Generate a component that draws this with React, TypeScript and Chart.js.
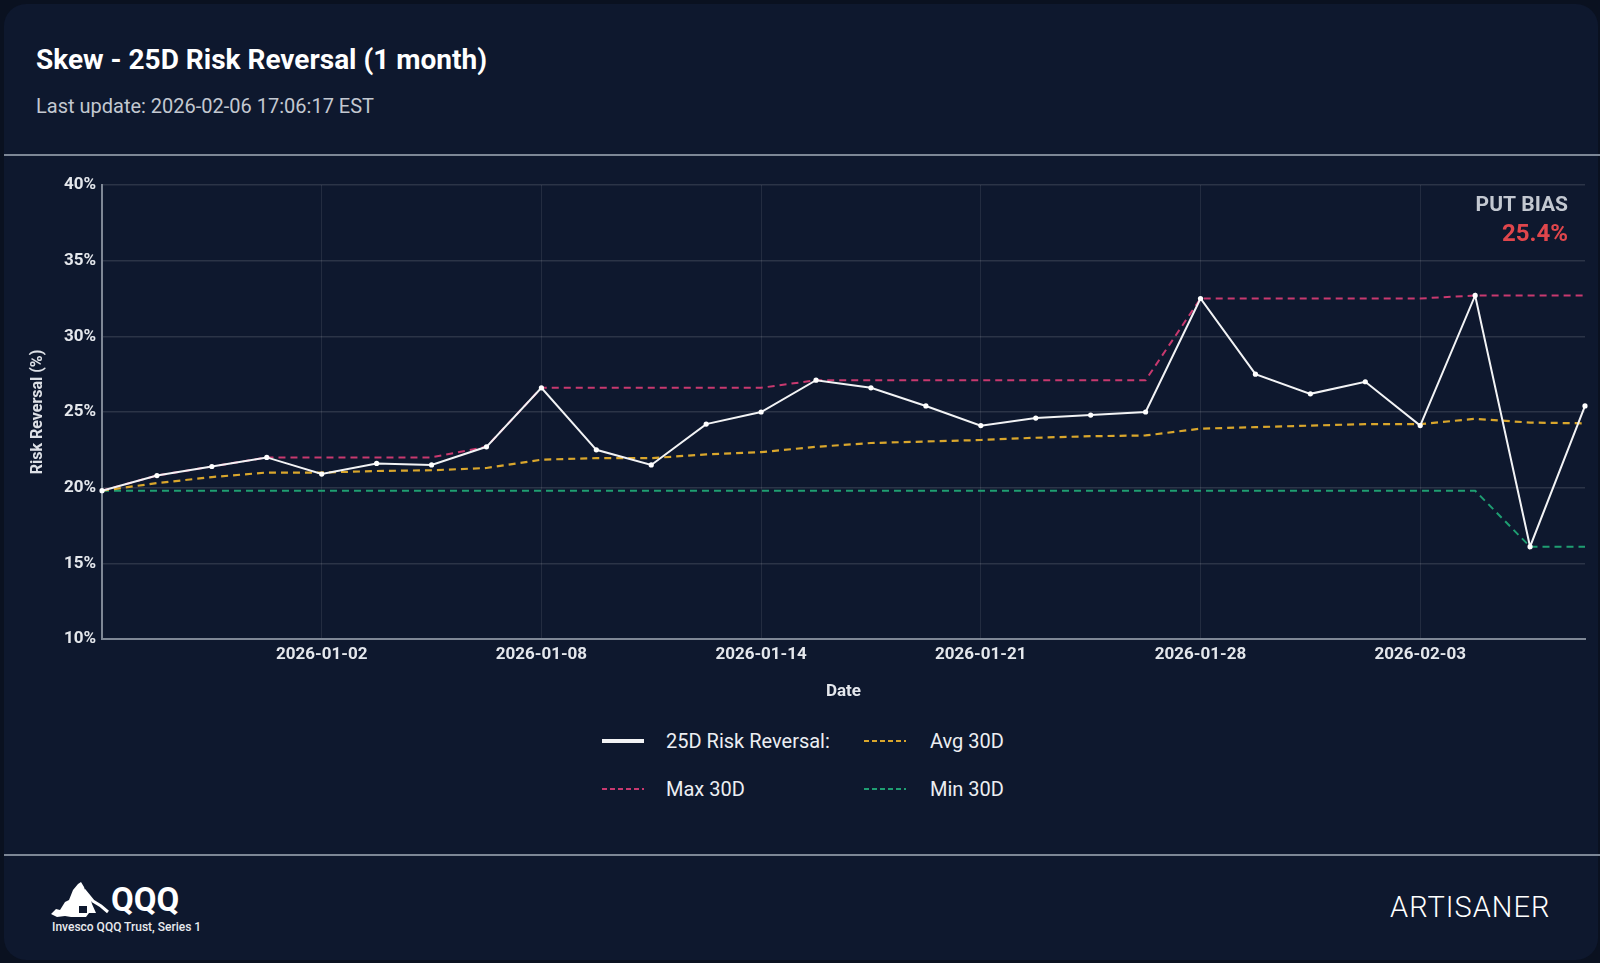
import React, { useEffect, useRef } from "react";
import { Chart, registerables } from "chart.js";

Chart.register(...registerables);

const TITLE = "Skew - 25D Risk Reversal (1 month)";
const SUBTITLE = "Last update: 2026-02-06 17:06:17 EST";
const BIAS_LABEL = "PUT BIAS";
const X_TITLE = "Date";
const Y_TITLE = "Risk Reversal (%)";

const dates = [
  "2025-12-26", "2025-12-29", "2025-12-30", "2025-12-31", "2026-01-02",
  "2026-01-05", "2026-01-06", "2026-01-07", "2026-01-08", "2026-01-09",
  "2026-01-12", "2026-01-13", "2026-01-14", "2026-01-15", "2026-01-16",
  "2026-01-20", "2026-01-21", "2026-01-22", "2026-01-23", "2026-01-27",
  "2026-01-28", "2026-01-29", "2026-01-30", "2026-02-02", "2026-02-03",
  "2026-02-04", "2026-02-05", "2026-02-06",
];

const riskReversal = [
  19.8, 20.8, 21.4, 22.0, 20.9, 21.6, 21.5, 22.7, 26.6, 22.5,
  21.5, 24.2, 25.0, 27.1, 26.6, 25.4, 24.1, 24.6, 24.8, 25.0,
  32.5, 27.5, 26.2, 27.0, 24.1, 32.7, 16.1, 25.4,
];

const max30 = [
  19.8, 20.8, 21.4, 22.0, 22.0, 22.0, 22.0, 22.7, 26.6, 26.6,
  26.6, 26.6, 26.6, 27.1, 27.1, 27.1, 27.1, 27.1, 27.1, 27.1,
  32.5, 32.5, 32.5, 32.5, 32.5, 32.7, 32.7, 32.7,
];

const avg30 = [
  19.8, 20.3, 20.7, 21.0, 21.0, 21.1, 21.15, 21.3, 21.85, 21.95,
  21.95, 22.2, 22.35, 22.7, 22.95, 23.05, 23.15, 23.3, 23.4, 23.45,
  23.9, 24.0, 24.1, 24.2, 24.2, 24.55, 24.3, 24.25,
];

const min30 = [
  19.8, 19.8, 19.8, 19.8, 19.8, 19.8, 19.8, 19.8, 19.8, 19.8,
  19.8, 19.8, 19.8, 19.8, 19.8, 19.8, 19.8, 19.8, 19.8, 19.8,
  19.8, 19.8, 19.8, 19.8, 19.8, 19.8, 16.1, 16.1,
];

const seriesNames = ["25D Risk Reversal:", "Avg 30D", "Max 30D", "Min 30D"];
const yMin = 10;
const yMax = 40;
const yStep = 5;

const C_MAIN = "#f2f3f5";
const C_AVG = "#d9a62c";
const C_MAX = "#c8396f";
const C_MIN = "#1f9e72";
const FONT = "Roboto, 'Noto Sans', sans-serif";

const putBiasPlugin = {
  id: "putBias",
  afterDraw(chart: any) {
    const { ctx, chartArea } = chart;
    const last = riskReversal[riskReversal.length - 1];
    ctx.save();
    ctx.textAlign = "right";
    ctx.textBaseline = "middle";
    ctx.font = `bold 21px ${FONT}`;
    ctx.fillStyle = "#c3c8d1";
    ctx.fillText(BIAS_LABEL, chartArea.right - 17, chartArea.top + 20.5);
    ctx.font = `bold 24px ${FONT}`;
    ctx.fillStyle = "#e0464c";
    ctx.fillText(`${last.toFixed(1)}%`, chartArea.right - 17, chartArea.top + 50);
    ctx.restore();
  },
};

function LegendItem({ left, top, color, dashed, label, gap }: any) {
  return (
    <div style={{ position: "absolute", left, top, height: 24, display: "flex", alignItems: "center" }}>
      <svg width={42} height={8} style={{ display: "block" }}>
        {dashed ? (
          <line x1={0} y1={4} x2={42} y2={4} stroke={color} strokeWidth={2} strokeDasharray="5 3" />
        ) : (
          <line x1={0} y1={4} x2={42} y2={4} stroke={color} strokeWidth={4} strokeLinecap="round" />
        )}
      </svg>
      <span style={{ marginLeft: gap, fontSize: 20, color: "#eceef2", fontFamily: FONT, whiteSpace: "nowrap" }}>
        {label}
      </span>
    </div>
  );
}

export default function App() {
  const canvasRef = useRef<HTMLCanvasElement | null>(null);

  useEffect(() => {
    document.body.style.margin = "0";
    const ctx = canvasRef.current!.getContext("2d")!;
    const chart = new Chart(ctx, {
      type: "line",
      data: {
        labels: dates,
        datasets: [
          {
            label: seriesNames[0],
            data: riskReversal,
            borderColor: C_MAIN,
            borderWidth: 2,
            pointRadius: 2.6,
            pointBackgroundColor: "#ffffff",
            pointBorderColor: "#ffffff",
            pointBorderWidth: 0,
            tension: 0,
          },
          {
            label: seriesNames[1],
            data: avg30,
            borderColor: C_AVG,
            borderWidth: 2.2,
            borderDash: [7, 5],
            pointRadius: 0,
            tension: 0,
          },
          {
            label: seriesNames[2],
            data: max30,
            borderColor: C_MAX,
            borderWidth: 2,
            borderDash: [7, 5],
            pointRadius: 0,
            tension: 0,
          },
          {
            label: seriesNames[3],
            data: min30,
            borderColor: C_MIN,
            borderWidth: 2,
            borderDash: [7, 5],
            pointRadius: 0,
            tension: 0,
          },
        ],
      },
      options: {
        responsive: false,
        animation: false,
        layout: { padding: { left: 20, right: 15, top: 25, bottom: 0 } },
        plugins: {
          legend: { display: false },
          tooltip: { enabled: false },
        },
        scales: {
          x: {
            type: "category",
            offset: false,
            afterFit: (scale: any) => {
              scale.height = 66;
            },
            grid: {
              color: "rgba(255,255,255,0.09)",
              lineWidth: 1,
              drawTicks: false,
            },
            border: { color: "#7f8896", width: 2 },
            ticks: {
              autoSkip: false,
              maxRotation: 0,
              padding: 6,
              color: "#e4e7ec",
              font: { family: FONT, size: 17, weight: "bold" },
              callback: function (this: any, _v: any, i: number) {
                return i > 0 && i % 4 === 0 ? dates[i] : null;
              },
            },
            title: {
              display: true,
              text: X_TITLE,
              color: "#e4e7ec",
              font: { family: FONT, size: 17, weight: "bold" },
              padding: { top: 4, bottom: 3 },
            },
          },
          y: {
            min: yMin,
            max: yMax,
            afterFit: (scale: any) => {
              scale.width = 82;
            },
            grid: {
              color: "rgba(255,255,255,0.12)",
              lineWidth: 1.5,
              drawTicks: false,
            },
            border: { color: "#7f8896", width: 2 },
            ticks: {
              stepSize: yStep,
              padding: 6,
              color: "#e4e7ec",
              font: { family: FONT, size: 17, weight: "bold" },
              callback: (v: any) => `${v}%`,
            },
            title: {
              display: true,
              text: Y_TITLE,
              color: "#dde0e6",
              font: { family: FONT, size: 16, weight: "bold" },
              padding: { top: 8, bottom: 0 },
            },
          },
        },
      },
      plugins: [putBiasPlugin],
    });
    return () => chart.destroy();
  }, []);

  return (
    <div style={{ position: "fixed", left: 0, top: 0, width: 1600, height: 963, background: "#0a1120", overflow: "hidden", fontFamily: FONT }}>
      <div style={{ position: "absolute", left: 4, top: 4, width: 1594, height: 956, background: "#0e182e", borderRadius: 22 }} />
      <div style={{ position: "absolute", left: 36, top: 46, fontSize: 28, fontWeight: 700, color: "#ffffff", lineHeight: "28px", whiteSpace: "nowrap" }}>
        {TITLE}
      </div>
      <div style={{ position: "absolute", left: 36, top: 96, fontSize: 20, fontWeight: 400, color: "#c3c8d1", lineHeight: "20px", whiteSpace: "nowrap" }}>
        {SUBTITLE}
      </div>
      <div style={{ position: "absolute", left: 4, top: 154, width: 1596, height: 2, background: "#7d8796" }} />
      <div style={{ position: "absolute", left: 0, top: 160, width: 1600, height: 545 }}>
        <canvas ref={canvasRef} width={1600} height={545} style={{ display: "block" }} />
      </div>
      <LegendItem left={602} top={729} color={C_MAIN} dashed={false} label={seriesNames[0]} gap={22} />
      <LegendItem left={864} top={729} color={C_AVG} dashed={true} label={seriesNames[1]} gap={24} />
      <LegendItem left={602} top={777} color={C_MAX} dashed={true} label={seriesNames[2]} gap={22} />
      <LegendItem left={864} top={777} color={C_MIN} dashed={true} label={seriesNames[3]} gap={24} />
      <div style={{ position: "absolute", left: 4, top: 854, width: 1596, height: 2, background: "#7d8796" }} />
      <svg style={{ position: "absolute", left: 51, top: 882 }} width={60} height={36} viewBox="0 0 60 36">
        <path d="M0 32 L5 27 L9 28 L14 20 L18 18 L22 8 L27 2 L30 0 L33 5 L35 11 L39 15 L41 22 L45 31 L38 31 L35 35 L20 35 L14 34 L6 35 Z" fill="#ffffff" />
        <path d="M33 8 L42 19 L50 24 L57 30" stroke="#ffffff" strokeWidth={3} fill="none" />
        <rect x={28} y={24} width={8} height={7} fill="#0e182e" />
      </svg>
      <div style={{ position: "absolute", left: 111, top: 883, fontSize: 33, fontWeight: 700, color: "#ffffff", lineHeight: "34px" }}>QQQ</div>
      <div style={{ position: "absolute", left: 52, top: 921, fontSize: 12, fontWeight: 500, color: "#e8eaee", lineHeight: "12px", whiteSpace: "nowrap" }}>
        Invesco QQQ Trust, Series 1
      </div>
      <div style={{ position: "absolute", left: 1390, top: 893, fontSize: 29, fontWeight: 300, color: "#ffffff", lineHeight: "29px", letterSpacing: 1, whiteSpace: "nowrap" }}>
        ARTISANER
      </div>
    </div>
  );
}
